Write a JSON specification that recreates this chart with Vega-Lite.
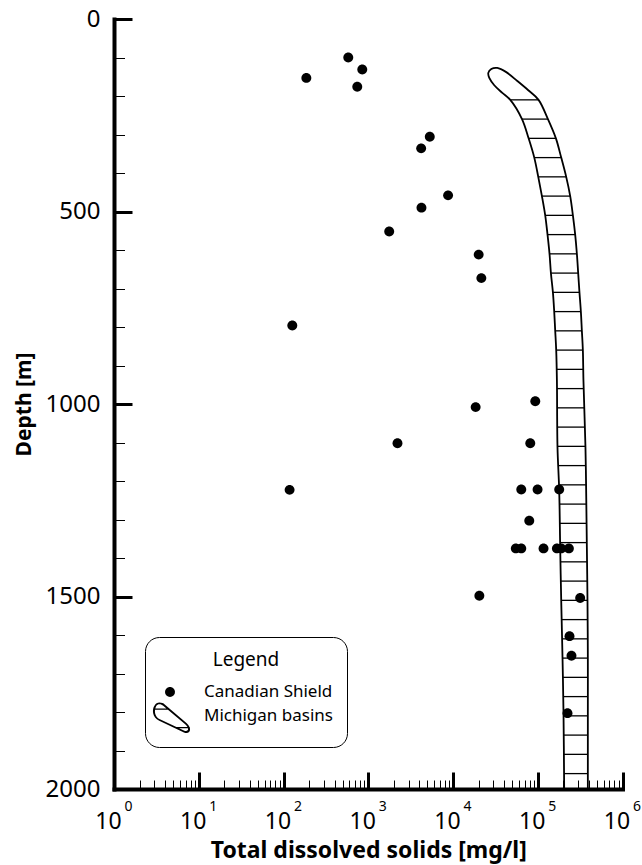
{
  "$schema": "https://vega.github.io/schema/vega-lite/v6.json",
  "width": 508.5,
  "height": 770,
  "autosize": {"type": "none"},
  "padding": {"left": 114, "top": 19, "right": 19.5, "bottom": 76},
  "background": "white",
  "config": {
    "font": "Noto Sans",
    "view": {"stroke": null},
    "axis": {"grid": false, "labelColor": "black", "titleColor": "black", "tickColor": "black", "domainColor": "black"}
  },
  "datasets": {
    "shield": [
      {"series": "Canadian Shield", "tds": 581, "depth": 100},
      {"series": "Canadian Shield", "tds": 850, "depth": 131},
      {"series": "Canadian Shield", "tds": 186, "depth": 153},
      {"series": "Canadian Shield", "tds": 742, "depth": 176},
      {"series": "Canadian Shield", "tds": 5320, "depth": 306},
      {"series": "Canadian Shield", "tds": 4210, "depth": 336},
      {"series": "Canadian Shield", "tds": 8750, "depth": 458},
      {"series": "Canadian Shield", "tds": 4245, "depth": 490},
      {"series": "Canadian Shield", "tds": 1767, "depth": 552},
      {"series": "Canadian Shield", "tds": 20090, "depth": 612},
      {"series": "Canadian Shield", "tds": 21600, "depth": 673},
      {"series": "Canadian Shield", "tds": 127, "depth": 796},
      {"series": "Canadian Shield", "tds": 93500, "depth": 993},
      {"series": "Canadian Shield", "tds": 18500, "depth": 1008},
      {"series": "Canadian Shield", "tds": 2213, "depth": 1102},
      {"series": "Canadian Shield", "tds": 81600, "depth": 1102},
      {"series": "Canadian Shield", "tds": 118, "depth": 1223},
      {"series": "Canadian Shield", "tds": 63900, "depth": 1222},
      {"series": "Canadian Shield", "tds": 99500, "depth": 1222},
      {"series": "Canadian Shield", "tds": 179100, "depth": 1222},
      {"series": "Canadian Shield", "tds": 79400, "depth": 1303},
      {"series": "Canadian Shield", "tds": 55100, "depth": 1375},
      {"series": "Canadian Shield", "tds": 63900, "depth": 1375},
      {"series": "Canadian Shield", "tds": 117000, "depth": 1375},
      {"series": "Canadian Shield", "tds": 168300, "depth": 1375},
      {"series": "Canadian Shield", "tds": 189200, "depth": 1375},
      {"series": "Canadian Shield", "tds": 233000, "depth": 1375},
      {"series": "Canadian Shield", "tds": 20460, "depth": 1498},
      {"series": "Canadian Shield", "tds": 316600, "depth": 1504},
      {"series": "Canadian Shield", "tds": 237000, "depth": 1603},
      {"series": "Canadian Shield", "tds": 250000, "depth": 1654},
      {"series": "Canadian Shield", "tds": 224400, "depth": 1803}
    ],
    "michiganOutline": [
      {"seq": 1, "tds": 205000, "depth": 2000},
      {"seq": 2, "tds": 201400, "depth": 1805},
      {"seq": 3, "tds": 196000, "depth": 1659},
      {"seq": 4, "tds": 189200, "depth": 1511},
      {"seq": 5, "tds": 184000, "depth": 1373},
      {"seq": 6, "tds": 179100, "depth": 1225},
      {"seq": 7, "tds": 171000, "depth": 1113},
      {"seq": 8, "tds": 168300, "depth": 939},
      {"seq": 9, "tds": 165100, "depth": 860},
      {"seq": 10, "tds": 160700, "depth": 810},
      {"seq": 11, "tds": 156400, "depth": 760},
      {"seq": 12, "tds": 151000, "depth": 710},
      {"seq": 13, "tds": 143000, "depth": 660},
      {"seq": 14, "tds": 137700, "depth": 610},
      {"seq": 15, "tds": 130400, "depth": 560},
      {"seq": 16, "tds": 122500, "depth": 510},
      {"seq": 17, "tds": 112000, "depth": 460},
      {"seq": 18, "tds": 101400, "depth": 410},
      {"seq": 19, "tds": 91000, "depth": 360},
      {"seq": 20, "tds": 78000, "depth": 310},
      {"seq": 21, "tds": 65200, "depth": 260},
      {"seq": 22, "tds": 47400, "depth": 210},
      {"seq": 23, "tds": 38200, "depth": 192},
      {"seq": 24, "tds": 30700, "depth": 172},
      {"seq": 25, "tds": 26800, "depth": 153},
      {"seq": 26, "tds": 26100, "depth": 140},
      {"seq": 27, "tds": 28300, "depth": 130},
      {"seq": 28, "tds": 33300, "depth": 127},
      {"seq": 29, "tds": 42500, "depth": 138},
      {"seq": 30, "tds": 57400, "depth": 161},
      {"seq": 31, "tds": 77300, "depth": 185},
      {"seq": 32, "tds": 102200, "depth": 210},
      {"seq": 33, "tds": 131900, "depth": 260},
      {"seq": 34, "tds": 163800, "depth": 310},
      {"seq": 35, "tds": 189200, "depth": 360},
      {"seq": 36, "tds": 216600, "depth": 410},
      {"seq": 37, "tds": 241500, "depth": 460},
      {"seq": 38, "tds": 259900, "depth": 510},
      {"seq": 39, "tds": 276500, "depth": 560},
      {"seq": 40, "tds": 289600, "depth": 610},
      {"seq": 41, "tds": 300000, "depth": 660},
      {"seq": 42, "tds": 310600, "depth": 710},
      {"seq": 43, "tds": 322700, "depth": 760},
      {"seq": 44, "tds": 331600, "depth": 810},
      {"seq": 45, "tds": 340700, "depth": 860},
      {"seq": 46, "tds": 346100, "depth": 939},
      {"seq": 47, "tds": 365600, "depth": 1113},
      {"seq": 48, "tds": 372500, "depth": 1225},
      {"seq": 49, "tds": 379800, "depth": 1373},
      {"seq": 50, "tds": 386300, "depth": 1511},
      {"seq": 51, "tds": 390000, "depth": 1659},
      {"seq": 52, "tds": 390000, "depth": 1805},
      {"seq": 53, "tds": 390000, "depth": 2000}
    ],
    "michiganHatch": [
      {"depth": 210, "left": 47400, "right": 102200},
      {"depth": 260, "left": 65200, "right": 131900},
      {"depth": 310, "left": 78000, "right": 163800},
      {"depth": 360, "left": 91000, "right": 189200},
      {"depth": 410, "left": 101400, "right": 216600},
      {"depth": 460, "left": 112000, "right": 241500},
      {"depth": 510, "left": 122500, "right": 259900},
      {"depth": 560, "left": 130400, "right": 276500},
      {"depth": 610, "left": 137700, "right": 289600},
      {"depth": 660, "left": 143000, "right": 300000},
      {"depth": 710, "left": 151000, "right": 310600},
      {"depth": 760, "left": 156400, "right": 322700},
      {"depth": 810, "left": 160700, "right": 331600},
      {"depth": 860, "left": 165100, "right": 340700},
      {"depth": 910, "left": 167000, "right": 344000},
      {"depth": 960, "left": 168800, "right": 348000},
      {"depth": 1010, "left": 169500, "right": 353000},
      {"depth": 1060, "left": 170300, "right": 359000},
      {"depth": 1110, "left": 171000, "right": 365000},
      {"depth": 1160, "left": 174000, "right": 368500},
      {"depth": 1210, "left": 178000, "right": 372000},
      {"depth": 1260, "left": 180000, "right": 375000},
      {"depth": 1310, "left": 182000, "right": 377500},
      {"depth": 1360, "left": 184000, "right": 379500},
      {"depth": 1410, "left": 185500, "right": 382000},
      {"depth": 1460, "left": 187500, "right": 384500},
      {"depth": 1510, "left": 189200, "right": 386300},
      {"depth": 1560, "left": 191500, "right": 388000},
      {"depth": 1610, "left": 194000, "right": 389000},
      {"depth": 1660, "left": 196000, "right": 390000},
      {"depth": 1710, "left": 198000, "right": 390000},
      {"depth": 1760, "left": 200000, "right": 390000},
      {"depth": 1810, "left": 201500, "right": 390000},
      {"depth": 1860, "left": 202500, "right": 390000},
      {"depth": 1910, "left": 203500, "right": 390000},
      {"depth": 1960, "left": 204500, "right": 390000}
    ]
  },
  "layer": [
    {
      "data": {"name": "michiganOutline"},
      "mark": {"type": "line", "stroke": "black", "strokeWidth": 1.8, "interpolate": "catmull-rom"},
      "encoding": {
        "x": {
          "field": "tds", "type": "quantitative",
          "scale": {"type": "log", "domain": [1, 1000000], "nice": false},
          "axis": {
            "orient": "bottom",
            "values": [1, 10, 100, 1000, 10000, 100000, 1000000],
            "labelExpr": "'10'",
            "tickSize": -17, "tickWidth": 3,
            "domainWidth": 4, "domainCap": "square",
            "labelFontSize": 23, "labelPadding": 56, "labelBaseline": "alphabetic", "labelOffset": -6,
            "labelFlush": false, "labelOverlap": false,
            "title": "Total dissolved solids [mg/l]",
            "titleFontSize": 23, "titleFontWeight": "bold", "titlePadding": 6
          }
        },
        "y": {
          "field": "depth", "type": "quantitative",
          "scale": {"domain": [0, 2000], "reverse": true, "nice": false, "zero": false},
          "axis": {
            "orient": "left",
            "values": [0, 500, 1000, 1500, 2000],
            "format": "d",
            "tickSize": -18, "tickWidth": 3,
            "domainWidth": 4, "domainCap": "square",
            "labelFontSize": 24, "labelPadding": 32, "labelFlush": false, "labelOverlap": false,
            "title": "Depth [m]",
            "titleFontSize": 21, "titleFontWeight": "bold", "titlePadding": 11
          }
        },
        "order": {"field": "seq", "type": "quantitative"}
      }
    },
    {
      "data": {"name": "michiganHatch"},
      "mark": {"type": "rule", "stroke": "black", "strokeWidth": 1.3},
      "encoding": {
        "x": {
          "field": "left", "type": "quantitative",
          "scale": {"type": "log", "domain": [1, 1000000], "nice": false},
          "axis": {
            "orient": "bottom",
            "values": [2, 3, 4, 5, 6, 7, 8, 9, 20, 30, 40, 50, 60, 70, 80, 90, 200, 300, 400, 500, 600, 700, 800, 900, 2000, 3000, 4000, 5000, 6000, 7000, 8000, 9000, 20000, 30000, 40000, 50000, 60000, 70000, 80000, 90000, 200000, 300000, 400000, 500000, 600000, 700000, 800000, 900000],
            "tickSize": -9, "tickWidth": 1,
            "labels": false, "domain": false, "title": null
          }
        },
        "x2": {"field": "right"},
        "y": {
          "field": "depth", "type": "quantitative",
          "scale": {"domain": [0, 2000], "reverse": true, "nice": false, "zero": false},
          "axis": {
            "orient": "left",
            "values": [100, 200, 300, 400, 600, 700, 800, 900, 1100, 1200, 1300, 1400, 1600, 1700, 1800, 1900],
            "tickSize": -10.5, "tickWidth": 1,
            "labels": false, "domain": false, "title": null
          }
        }
      }
    },
    {
      "data": {"name": "shield"},
      "mark": {"type": "point", "filled": true, "color": "black", "opacity": 1, "size": 484, "strokeWidth": 0},
      "encoding": {
        "x": {
          "field": "tds", "type": "quantitative",
          "scale": {"type": "log", "domain": [1, 1000000], "nice": false},
          "axis": {
            "orient": "bottom",
            "values": [1, 10, 100, 1000, 10000, 100000, 1000000],
            "labelExpr": "'' + round(log(datum.value) / LN10)",
            "ticks": false, "tickSize": 0, "domain": false,
            "labelFontSize": 14, "labelPadding": 21, "labelBaseline": "alphabetic", "labelOffset": 14,
            "labelFlush": false, "labelOverlap": false, "title": null
          }
        },
        "y": {"field": "depth", "type": "quantitative", "scale": {"domain": [0, 2000], "reverse": true, "nice": false, "zero": false}, "axis": null},
        "shape": {
          "field": "series", "type": "nominal",
          "scale": {
            "domain": ["Canadian Shield", "Michigan basins"],
            "range": [
              "M 0.45 0 C 0.45 0.2485 0.2485 0.45 0 0.45 C -0.2485 0.45 -0.45 0.2485 -0.45 0 C -0.45 -0.2485 -0.2485 -0.45 0 -0.45 C 0.2485 -0.45 0.45 -0.2485 0.45 0 Z",
              "M -1.40 -0.95 C -1.25 -1.32 -0.72 -1.27 -0.48 -1.05 L 1.52 0.66 C 2.05 1.15 1.85 1.7 1.27 1.49 L -0.98 0.43 C -1.62 0.15 -1.66 -0.62 -1.40 -0.95 Z M -1.25 -0.92 C -1.46 -0.55 -1.42 0.06 -0.92 0.30 L 1.31 1.34 C 1.70 1.45 1.78 1.14 1.38 0.76 L -0.62 -0.94 C -0.78 -1.10 -1.12 -1.15 -1.25 -0.92 Z M -1.5 -0.68 L -0.15 -0.68 L -0.15 -0.56 L -1.5 -0.56 Z M 0.6 0.99 L 1.8 0.99 L 1.8 1.11 L 0.6 1.11 Z"
            ]
          },
          "legend": {
            "orient": "none", "legendX": 31, "legendY": 618,
            "title": "Legend", "titleAnchor": "middle", "titleFontWeight": "normal", "titleFontSize": 19, "titleColor": "black", "titlePadding": 11,
            "labelFontSize": 17, "labelColor": "black", "labelOffset": 23,
            "symbolSize": 484, "symbolStrokeWidth": 0, "symbolFillColor": "black",
            "rowPadding": 2, "padding": 14, "cornerRadius": 14, "strokeColor": "black"
          }
        }
      }
    }
  ],
  "resolve": {"axis": {"x": "independent", "y": "independent"}}
}
